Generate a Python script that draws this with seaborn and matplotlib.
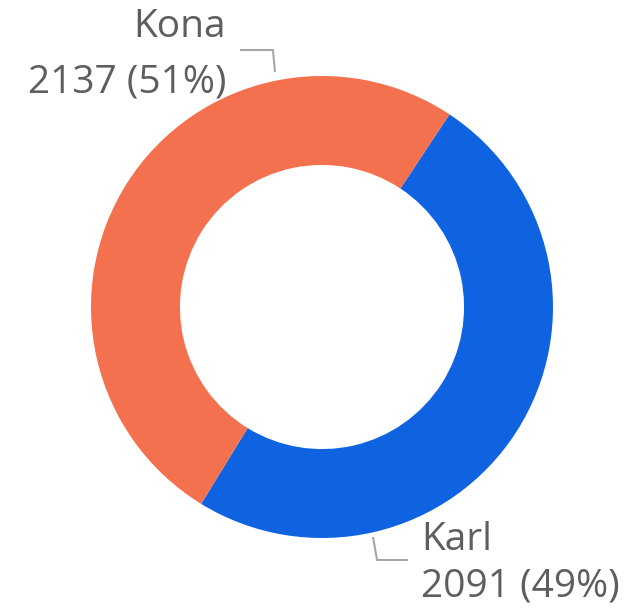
import matplotlib
matplotlib.use("Agg")
import matplotlib.pyplot as plt
import seaborn as sns

# Data
categories = ["Karl", "Kona"]
values = [2091, 2137]
colors = ["#0F63E0", "#F4714F"]

sns.set_theme(style="white")
plt.rcParams['font.family'] = ['Open Sans', 'DejaVu Sans']

W, H = 639, 614
fig = plt.figure(figsize=(W / 100, H / 100), dpi=100)
ax = fig.add_axes([0, 0, 1, 1])

cx, cy, R = 322, 307, 231  # pixel layout

def px(x, y):
    return (x - cx) / R, (cy - y) / R

total = sum(values)
ax.pie(values, colors=colors, startangle=56.5, counterclock=False,
       radius=1.0, wedgeprops=dict(width=0.385, edgecolor="none"))

ax.set_xlim(-cx / R, (W - cx) / R)
ax.set_ylim(-(H - cy) / R, cy / R)
ax.set_aspect("equal")
ax.axis("off")

txt_color = "#605E5C"
line_color = "#A6A6A6"
fs = 28

pct = [round(v / total * 100) for v in values]

# Kona label (upper left)
x, y = px(226, 37)
ax.text(x, y, categories[1], ha="right", va="baseline", fontsize=fs, color=txt_color)
x, y = px(226, 92)
ax.text(x, y, f"{values[1]} ({pct[1]}%)", ha="right", va="baseline", fontsize=fs, color=txt_color)
lx, ly = zip(px(240, 50), px(273, 50), px(275, 72))
ax.plot(lx, ly, color=line_color, lw=1.5, solid_capstyle="butt")

# Karl label (lower right)
x, y = px(421, 550)
ax.text(x, y, categories[0], ha="left", va="baseline", fontsize=fs, color=txt_color)
x, y = px(421, 597)
ax.text(x, y, f"{values[0]} ({pct[0]}%)", ha="left", va="baseline", fontsize=fs, color=txt_color)
lx, ly = zip(px(373, 537), px(377, 560), px(408, 560))
ax.plot(lx, ly, color=line_color, lw=1.5, solid_capstyle="butt")

fig.savefig("out.png", dpi=100, facecolor="white")
